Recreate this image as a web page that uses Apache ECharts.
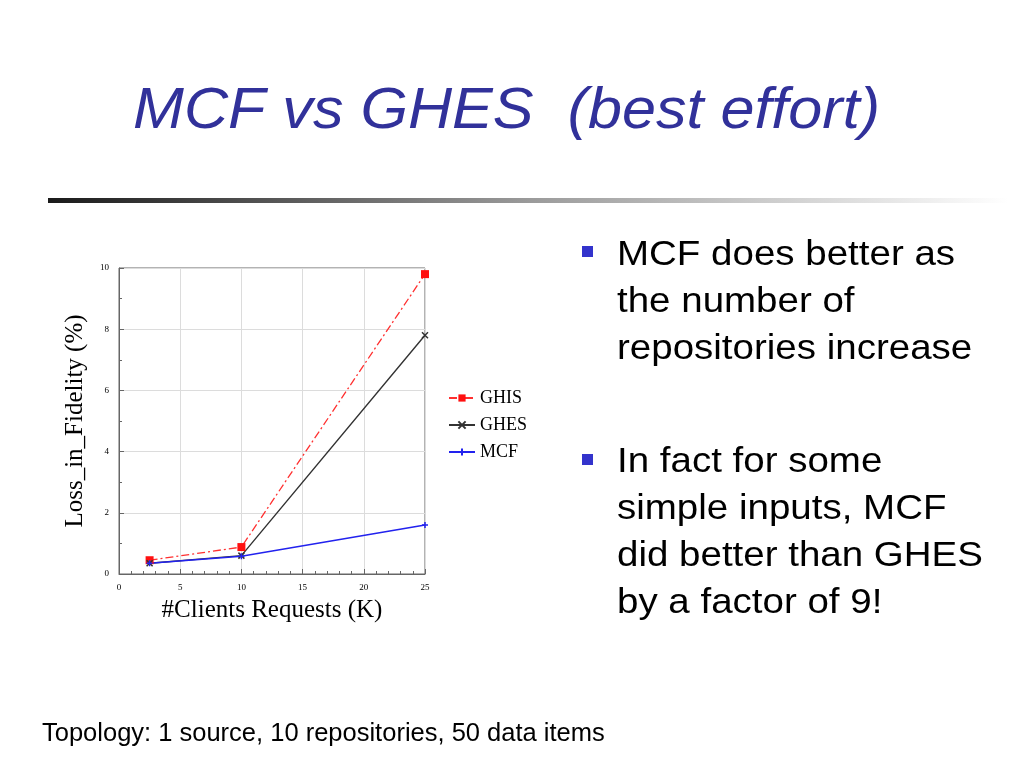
<!DOCTYPE html>
<html><head><meta charset="utf-8">
<script src="https://cdn.jsdelivr.net/npm/echarts@6/dist/echarts.min.js"></script>
<style>html,body{margin:0;padding:0;background:#fff}#c{width:1024px;height:768px}</style>
</head><body><div id="c"></div>
<script>
const xValues = [2.5, 10, 25];
const ghis = [0.45, 0.88, 9.8];
const ghes = [0.35, 0.6, 7.8];
const mcf = [0.35, 0.58, 1.6];
const seriesNames = ['GHIS', 'GHES', 'MCF'];
const titleText = 'MCF vs GHES  (best effort)';
const bullet1 = ['MCF does better as', 'the number of', 'repositories increase'];
const bullet2 = ['In fact for some', 'simple inputs, MCF', 'did better than GHES', 'by a factor of 9!'];
const footer = 'Topology: 1 source, 10 repositories, 50 data items';

const pair = (ys) => xValues.map((x, i) => [x, ys[i]]);
const chart = echarts.init(document.getElementById('c'));
const serif = 'Liberation Serif';

const ctx = document.createElement('canvas').getContext('2d');
function measure(t, font){ ctx.font = font; return ctx.measureText(t).width; }

const titleFont = 'italic 58px "Liberation Sans"';
const titleScale = 747 / measure(titleText, titleFont);
const bulletFont = '35px "Liberation Sans"';
const bulletScale = 1.1;

const graphics = [
  {type:'text', x:133, y:83, scaleX:titleScale, style:{text:titleText, font:titleFont, fill:'#31319a'}},
  {type:'rect', shape:{x:48, y:198, width:960, height:5}, style:{fill:new echarts.graphic.LinearGradient(0,0,1,0,[{offset:0,color:'#1a1a1a'},{offset:0.5,color:'#9a9a9a'},{offset:1,color:'#ffffff'}])}},
  {type:'text', x:42, y:721, style:{text:footer, font:'25.5px "Liberation Sans"', fill:'#000'}}
];
const lh = 47;
bullet1.forEach((t,i)=>graphics.push({type:'text', x:617, y:238+i*lh, scaleX:bulletScale, style:{text:t, font:bulletFont, fill:'#000'}}));
bullet2.forEach((t,i)=>graphics.push({type:'text', x:617, y:445+i*lh, scaleX:bulletScale, style:{text:t, font:bulletFont, fill:'#000'}}));
graphics.push({type:'rect', shape:{x:582, y:246, width:11, height:11}, style:{fill:'#3333cc'}});
graphics.push({type:'rect', shape:{x:582, y:454, width:11, height:11}, style:{fill:'#3333cc'}});

chart.setOption({
  animation:false,
  backgroundColor:'#fff',
  grid:{left:119, right:599, top:268, bottom:194, show:true, borderColor:'#666', borderWidth:1},
  legend:{
    data:seriesNames, orient:'vertical', left:443, top:384, itemGap:9, itemWidth:26, itemHeight:9,
    textStyle:{fontFamily:serif, fontSize:18, color:'#000'}
  },
  xAxis:{
    type:'value', min:0, max:25, interval:5,
    name:'#Clients Requests (K)', nameLocation:'middle', nameGap:24,
    nameTextStyle:{fontFamily:serif, fontSize:25, color:'#000'},
    axisLine:{lineStyle:{color:'#666'}},
    axisTick:{inside:true, length:5, lineStyle:{color:'#666'}},
    minorTick:{show:true, splitNumber:5, length:3, lineStyle:{color:'#666'}},
    axisLabel:{fontFamily:serif, fontSize:9, color:'#000', margin:9},
    splitLine:{show:true, lineStyle:{color:'#dcdcdc'}}
  },
  yAxis:{
    type:'value', min:0, max:10, interval:2,
    name:'Loss_in_Fidelity (%)', nameLocation:'middle', nameGap:31,
    nameTextStyle:{fontFamily:serif, fontSize:25, color:'#000'},
    axisLine:{show:true, lineStyle:{color:'#666'}},
    axisTick:{show:true, inside:true, length:5, lineStyle:{color:'#666'}},
    minorTick:{show:true, splitNumber:2, length:3, lineStyle:{color:'#666'}},
    axisLabel:{fontFamily:serif, fontSize:9, color:'#000', margin:10},
    splitLine:{show:true, lineStyle:{color:'#dcdcdc'}}
  },
  series:[
    {name:'GHIS', type:'line', data:pair(ghis), symbol:'rect', symbolSize:8, color:'#ff2020',
     lineStyle:{color:'#ff3030', width:1.3, type:[8,3,2,3]}, itemStyle:{color:'#ff1010'}},
    {name:'GHES', type:'line', data:pair(ghes), symbol:'path://M0,0L10,10M10,0L0,10', symbolSize:6, color:'#333',
     lineStyle:{color:'#333', width:1.4}, itemStyle:{color:'#333', borderColor:'#333', borderWidth:1.5}},
    {name:'MCF', type:'line', data:pair(mcf), symbol:'path://M0,5L10,5M5,0L5,10', symbolSize:6, color:'#2222ee',
     lineStyle:{color:'#2222ee', width:1.4}, itemStyle:{color:'#2222ee', borderColor:'#2222ee', borderWidth:1.5}}
  ],
  graphic:graphics
});
</script></body></html>
